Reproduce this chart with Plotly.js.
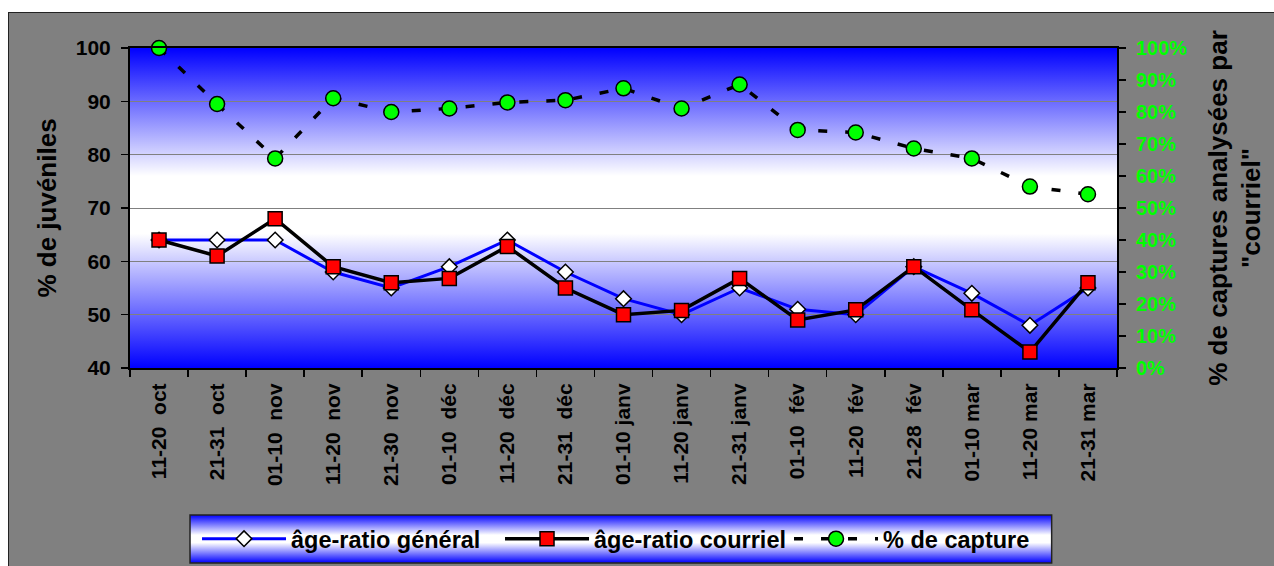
<!DOCTYPE html>
<html>
<head>
<meta charset="utf-8">
<script src="https://cdn.plot.ly/plotly-3.0.1.min.js"></script>
<style>
html,body{margin:0;padding:0;background:#ffffff;width:1274px;height:566px;overflow:hidden;}
#chart{position:absolute;left:8px;top:12px;width:1265px;height:553px;border-top:1px solid #222;border-left:1px solid #222;}
</style>
</head>
<body>
<div id="chart"></div>
<script>
// ---- data ----
const periods = [
  "11-20\u00a0 oct", "21-31\u00a0 oct", "01-10\u00a0 nov", "11-20\u00a0 nov", "21-30\u00a0 nov",
  "01-10\u00a0 déc", "11-20\u00a0 déc", "21-31\u00a0 déc", "01-10 janv", "11-20 janv",
  "21-31 janv", "01-10\u00a0 fév", "11-20\u00a0 fév", "21-28\u00a0 fév", "01-10 mar",
  "11-20 mar", "21-31 mar"
];
const ageRatioGeneral  = [64, 64, 64, 58, 55, 59, 64, 58, 53, 50, 55, 51, 50, 59, 54, 48, 55];
const ageRatioCourriel = [64, 61, 68, 59, 56, 56.8, 62.8, 55, 50, 50.8, 56.8, 49, 50.9, 59, 50.9, 43, 56];
const captureShare     = [100, 82.5, 65.5, 84.3, 80, 81.1, 83, 83.7, 87.4, 81.1, 88.6, 74.4, 73.6, 68.6, 65.5, 56.7, 54.3];
const seriesNames = ["âge-ratio général", "âge-ratio courriel", "% de capture"];
const leftTitle = "% de juvéniles";
const rightTitle = "% de captures analysées par<br>\"courriel\"";

// ---- gradients ----
function gradUri(stops) {
  let s = '<svg xmlns="http://www.w3.org/2000/svg" width="100" height="100" preserveAspectRatio="none" viewBox="0 0 100 100">' +
    '<defs><linearGradient id="g" x1="0" y1="0" x2="0" y2="1">';
  stops.forEach(st => { s += '<stop offset="' + st[0] + '" stop-color="' + st[1] + '"/>'; });
  s += '</linearGradient></defs><rect x="0" y="0" width="100" height="100" fill="url(#g)"/></svg>';
  return 'data:image/svg+xml;charset=utf-8,' + encodeURIComponent(s);
}
const plotGrad = gradUri([[0,'#0000ff'],[0.40,'#ffffff'],[0.58,'#ffffff'],[1,'#0000ff']]);
const legGrad = gradUri([[0,'#0000ff'],[0.42,'#ffffff'],[0.58,'#ffffff'],[1,'#0000ff']]);

const FONT = "'Liberation Sans', Arial, sans-serif";

const traces = [
  {
    x: periods, y: ageRatioGeneral, name: seriesNames[0], type: 'scatter', mode: 'lines+markers',
    line: {color: '#0000ff', width: 3}, cliponaxis: false, legendwidth: 204,
    marker: {symbol: 'diamond', size: 12, color: '#ffffff', line: {color: '#000000', width: 1.5}},
    xaxis: 'x', yaxis: 'y'
  },
  {
    x: periods, y: ageRatioCourriel, name: seriesNames[1], type: 'scatter', mode: 'lines+markers',
    line: {color: '#000000', width: 3.5}, cliponaxis: false, legendwidth: 190,
    marker: {symbol: 'square', size: 14, color: '#ff0000', line: {color: '#000000', width: 1.5}},
    xaxis: 'x', yaxis: 'y'
  },
  {
    x: periods, y: captureShare, name: seriesNames[2], type: 'scatter', mode: 'lines+markers',
    line: {color: '#000000', width: 3.5, dash: '9px,18px'}, cliponaxis: false,
    marker: {symbol: 'circle', size: 15, color: '#00ff00', line: {color: '#000000', width: 1.5}},
    xaxis: 'x', yaxis: 'y2'
  }
];

const legX0 = 0.0608, legW = 0.873, legY0 = -0.459, legH = 0.15;

const layout = {
  width: 1265, height: 553,
  margin: {l: 121, r: 157, t: 35, b: 198, autoexpand: false},
  paper_bgcolor: '#808080',
  plot_bgcolor: 'rgba(0,0,0,0)',
  font: {family: FONT, color: '#000000'},
  showlegend: true,
  hovermode: false,
  images: [
    {source: plotGrad, xref: 'paper', yref: 'paper', x: 0, y: 1, sizex: 1, sizey: 1,
     sizing: 'stretch', xanchor: 'left', yanchor: 'top', layer: 'below'},
    {source: legGrad, xref: 'paper', yref: 'paper', x: legX0, y: legY0, sizex: legW, sizey: legH,
     sizing: 'stretch', xanchor: 'left', yanchor: 'top', layer: 'below'}
  ],
  shapes: [
    {type: 'rect', xref: 'paper', yref: 'paper', x0: legX0, x1: legX0 + legW, y0: legY0, y1: legY0 - legH,
     line: {color: '#222222', width: 1.5}, fillcolor: 'rgba(0,0,0,0)', layer: 'above'}
  ],
  xaxis: {
    type: 'category', range: [-0.5, 16.5], autorange: false,
    tickson: 'boundaries', ticks: 'outside', ticklen: 7, tickwidth: 1.5, tickcolor: '#000',
    tickangle: -90, tickfont: {family: FONT, size: 21, color: '#000', weight: 'bold'},
    showline: true, mirror: true, linecolor: '#000', linewidth: 2, showgrid: false, zeroline: false,
    ticklabelstandoff: 5, fixedrange: true
  },
  yaxis: {
    range: [40, 100], dtick: 10, ticks: 'outside', ticklen: 7, tickwidth: 1.5, tickcolor: '#000',
    tickfont: {family: FONT, size: 21, color: '#000', weight: 'bold'},
    showline: true, linecolor: '#000', linewidth: 2, showgrid: true, gridcolor: '#808080', gridwidth: 1,
    zeroline: false, ticklabelstandoff: 6, automargin: true,
    title: {text: leftTitle, font: {family: FONT, size: 26, color: '#000', weight: 'bold'}, standoff: 12},
    fixedrange: true
  },
  yaxis2: {
    overlaying: 'y', side: 'right', anchor: 'x', range: [0, 100], dtick: 10, ticksuffix: '%',
    ticks: 'outside', ticklen: 7, tickwidth: 1.5, tickcolor: '#000',
    tickfont: {family: FONT, size: 20, color: '#00ff00', weight: 'bold'},
    showline: true, linecolor: '#000', linewidth: 2, showgrid: false, zeroline: false,
    ticklabelstandoff: 6, automargin: true,
    title: {text: rightTitle, font: {family: FONT, size: 26, color: '#000', weight: 'bold'}, standoff: 22},
    fixedrange: true
  },
  yaxis3: {
    overlaying: 'y', side: 'right', anchor: 'x', range: [0, 100], dtick: 10,
    ticks: 'inside', ticklen: 7, tickwidth: 1.5, tickcolor: '#000', showticklabels: false,
    showline: false, showgrid: false, zeroline: false, fixedrange: true
  },
  legend: {
    orientation: 'h', x: 0.0679, xanchor: 'left', y: -0.534, yanchor: 'middle',
    bgcolor: 'rgba(0,0,0,0)', borderwidth: 0, itemwidth: 84,
    font: {family: FONT, size: 23.5, color: '#000', weight: 'bold'},
    traceorder: 'normal', itemclick: false, itemdoubleclick: false
  }
};

Plotly.newPlot('chart', traces, layout, {displayModeBar: false, staticPlot: true});
</script>
</body>
</html>
